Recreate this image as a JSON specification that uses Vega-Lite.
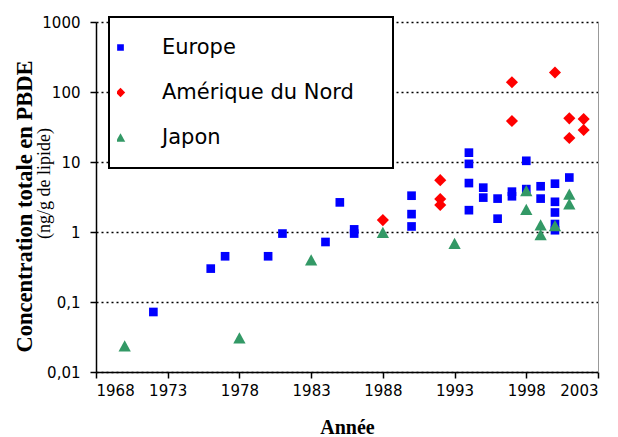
{
  "$schema": "https://vega.github.io/schema/vega-lite/v6.json",
  "width": 502,
  "height": 350,
  "autosize": {"type": "none"},
  "padding": {"left": 96, "top": 22, "right": 20, "bottom": 65},
  "background": "white",
  "config": {
    "view": {"stroke": null},
    "axis": {
      "labelFont": "DejaVu Sans",
      "labelFontSize": 15,
      "labelColor": "black",
      "domainColor": "black",
      "domainWidth": 1.5,
      "tickColor": "black",
      "tickWidth": 1.5,
      "tickSize": 6,
      "titleColor": "black",
      "titleFont": "Liberation Serif"
    },
    "legend": {
      "orient": "none",
      "legendX": 13,
      "legendY": -5,
      "strokeColor": "black",
      "strokeWidth": 2,
      "fillColor": "white",
      "padding": 8,
      "clipHeight": 45,
      "rowPadding": 0,
      "labelFont": "DejaVu Sans",
      "labelFontSize": 21,
      "labelOffset": 31,
      "symbolOffset": -7,
      "symbolSize": 45,
      "symbolStrokeWidth": 0,
      "labelLimit": 400
    }
  },
  "data": {
    "values": [
      {"annee": 1972, "conc": 0.072, "serie": "Europe"},
      {"annee": 1976, "conc": 0.30, "serie": "Europe"},
      {"annee": 1977, "conc": 0.45, "serie": "Europe"},
      {"annee": 1980, "conc": 0.45, "serie": "Europe"},
      {"annee": 1981, "conc": 0.95, "serie": "Europe"},
      {"annee": 1984, "conc": 0.72, "serie": "Europe"},
      {"annee": 1985, "conc": 2.65, "serie": "Europe"},
      {"annee": 1986, "conc": 1.09, "serie": "Europe"},
      {"annee": 1986, "conc": 0.95, "serie": "Europe"},
      {"annee": 1990, "conc": 3.3, "serie": "Europe"},
      {"annee": 1990, "conc": 1.8, "serie": "Europe"},
      {"annee": 1990, "conc": 1.2, "serie": "Europe"},
      {"annee": 1994, "conc": 13.6, "serie": "Europe"},
      {"annee": 1994, "conc": 9.4, "serie": "Europe"},
      {"annee": 1994, "conc": 5.0, "serie": "Europe"},
      {"annee": 1994, "conc": 2.05, "serie": "Europe"},
      {"annee": 1995, "conc": 4.3, "serie": "Europe"},
      {"annee": 1995, "conc": 3.1, "serie": "Europe"},
      {"annee": 1996, "conc": 3.0, "serie": "Europe"},
      {"annee": 1996, "conc": 1.55, "serie": "Europe"},
      {"annee": 1997, "conc": 3.77, "serie": "Europe"},
      {"annee": 1997, "conc": 3.24, "serie": "Europe"},
      {"annee": 1998, "conc": 10.4, "serie": "Europe"},
      {"annee": 1998, "conc": 4.1, "serie": "Europe"},
      {"annee": 1999, "conc": 4.5, "serie": "Europe"},
      {"annee": 1999, "conc": 3.0, "serie": "Europe"},
      {"annee": 2000, "conc": 4.9, "serie": "Europe"},
      {"annee": 2000, "conc": 2.7, "serie": "Europe"},
      {"annee": 2000, "conc": 1.9, "serie": "Europe"},
      {"annee": 2000, "conc": 1.3, "serie": "Europe"},
      {"annee": 2000, "conc": 1.06, "serie": "Europe"},
      {"annee": 2001, "conc": 6.0, "serie": "Europe"},
      {"annee": 1988, "conc": 1.48, "serie": "Amérique du Nord"},
      {"annee": 1992, "conc": 5.5, "serie": "Amérique du Nord"},
      {"annee": 1992, "conc": 2.96, "serie": "Amérique du Nord"},
      {"annee": 1992, "conc": 2.43, "serie": "Amérique du Nord"},
      {"annee": 1997, "conc": 138, "serie": "Amérique du Nord"},
      {"annee": 1997, "conc": 38.5, "serie": "Amérique du Nord"},
      {"annee": 2000, "conc": 190, "serie": "Amérique du Nord"},
      {"annee": 2001, "conc": 42, "serie": "Amérique du Nord"},
      {"annee": 2001, "conc": 22, "serie": "Amérique du Nord"},
      {"annee": 2002, "conc": 41, "serie": "Amérique du Nord"},
      {"annee": 2002, "conc": 28.6, "serie": "Amérique du Nord"},
      {"annee": 1970, "conc": 0.0237, "serie": "Japon"},
      {"annee": 1978, "conc": 0.0308, "serie": "Japon"},
      {"annee": 1983, "conc": 0.40, "serie": "Japon"},
      {"annee": 1988, "conc": 0.99, "serie": "Japon"},
      {"annee": 1993, "conc": 0.69, "serie": "Japon"},
      {"annee": 1998, "conc": 3.9, "serie": "Japon"},
      {"annee": 1998, "conc": 2.1, "serie": "Japon"},
      {"annee": 1999, "conc": 1.26, "serie": "Japon"},
      {"annee": 1999, "conc": 0.92, "serie": "Japon"},
      {"annee": 2000, "conc": 1.23, "serie": "Japon"},
      {"annee": 2001, "conc": 3.47, "serie": "Japon"},
      {"annee": 2001, "conc": 2.53, "serie": "Japon"}
    ]
  },
  "encoding": {
    "x": {
      "field": "annee",
      "type": "quantitative",
      "scale": {"domain": [1968, 2003], "nice": false, "zero": false},
      "axis": {
        "values": [1968, 1973, 1978, 1983, 1988, 1993, 1998, 2003],
        "format": "d",
        "grid": false,
        "labelPadding": 5,
        "title": "Année",
        "titleFontSize": 20,
        "titleFontWeight": "bold",
        "titleX": 251,
        "titleY": 61,
        "titleAlign": "center",
        "titleBaseline": "alphabetic"
      }
    }
  },
  "layer": [
    {
      "mark": {"type": "point", "filled": true, "opacity": 1, "size": 75},
      "encoding": {
        "y": {
          "field": "conc",
          "type": "quantitative",
          "scale": {"type": "log", "domain": [0.01, 1000], "nice": false},
          "axis": {
            "orient": "left",
            "values": [0.01, 0.1, 1, 10, 100, 1000],
            "labelExpr": "replace(toString(datum.value), '.', ',')",
            "labelPadding": 10,
            "grid": true,
            "gridColor": "black",
            "gridDash": [2, 3],
            "gridWidth": 1.5,
            "title": "Concentration totale en PBDE",
            "titleFont": "Liberation Serif",
            "titleFontSize": 22.5,
            "titleFontWeight": "bold",
            "titleAngle": -90,
            "titleX": -65,
            "titleY": 184,
            "titleAlign": "center",
            "titleBaseline": "alphabetic"
          }
        },
        "color": {
          "field": "serie",
          "type": "nominal",
          "scale": {"domain": ["Europe", "Amérique du Nord", "Japon"], "range": ["#0000FF", "#FF0000", "#339966"]},
          "legend": {
            "title": null,
            "labelExpr": "datum.label + '\u2800\u2800'",
            "encode": {
              "labels": {"update": {"fill": {"signal": "datum.value === 'Europe' ? '#0000FF' : datum.value === 'Japon' ? '#008000' : '#FF0000'"}}}
            }
          }
        },
        "shape": {
          "field": "serie",
          "type": "nominal",
          "scale": {
            "domain": ["Europe", "Amérique du Nord", "Japon"],
            "range": ["M-1,-1H1V1H-1Z", "M0,-1.4L1.4,0L0,1.4L-1.4,0Z", "M0,-1.3L1.42,1.3L-1.42,1.3Z"]
          },
          "legend": {"title": null}
        }
      }
    },
    {
      "mark": {"type": "point", "opacity": 0},
      "encoding": {
        "y": {
          "field": "conc",
          "type": "quantitative",
          "scale": {"type": "log", "domain": [0.01, 1000], "nice": false},
          "axis": {
            "orient": "left",
            "labels": false,
            "ticks": false,
            "domain": false,
            "grid": false,
            "title": "(ng/g de lipide)",
            "titleFont": "Liberation Serif",
            "titleColor": "black",
            "titleFontSize": 18,
            "titleFontWeight": "normal",
            "titleAngle": -90,
            "titleX": -47,
            "titleY": 161,
            "titleAlign": "center",
            "titleBaseline": "alphabetic"
          }
        }
      }
    },
    {
      "mark": {"type": "point", "opacity": 0},
      "encoding": {
        "y": {
          "field": "conc",
          "type": "quantitative",
          "scale": {"type": "log", "domain": [0.01, 1000], "nice": false},
          "axis": {
            "orient": "right",
            "labels": false,
            "ticks": false,
            "grid": false,
            "title": null,
            "domainColor": "#999999",
            "domainWidth": 1
          }
        }
      }
    }
  ],
  "resolve": {"axis": {"y": "independent"}}
}
